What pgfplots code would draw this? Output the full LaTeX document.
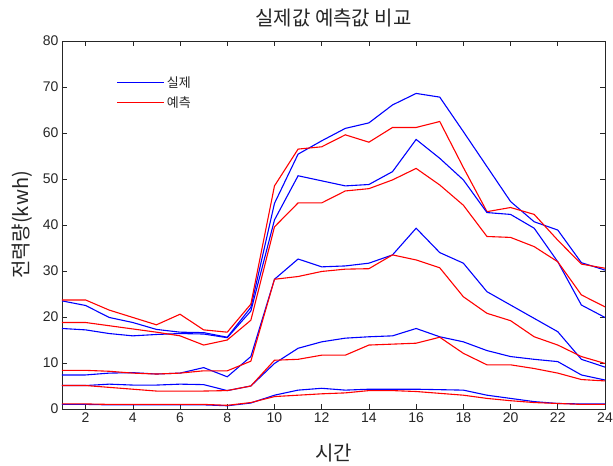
\documentclass[border=0pt]{standalone}
\usepackage{pgfplots}
\pgfplotsset{compat=1.18}
\usepackage{pgfplotstable}
\usepackage{fontspec}
\setmainfont{Liberation Sans}
\newfontfamily\kr{Noto Sans CJK KR}
\definecolor{axgray}{RGB}{38,38,38}
\definecolor{mblue}{RGB}{0,0,255}
\definecolor{mred}{RGB}{255,0,0}

\pgfplotstableread{
x a1 p1 a2 p2 a3 p3 a4 p4 a5 p5
1 23.5 23.7 17.5 18.8 7.4 8.4 5.1 5.1 1.0 1.1
2 22.5 23.7 17.2 18.8 7.4 8.4 5.1 5.1 1.0 1.1
3 19.9 21.5 16.4 18.1 7.8 8.2 5.4 4.7 0.9 1.0
4 18.8 19.9 15.9 17.4 7.9 7.8 5.2 4.3 0.9 1.0
5 17.3 18.3 16.2 16.7 7.6 7.6 5.2 3.9 0.9 1.0
6 16.7 20.6 16.4 15.9 7.8 7.8 5.4 3.9 0.9 1.0
7 16.6 17.2 16.3 13.9 9.0 8.3 5.3 3.9 0.9 1.0
8 15.6 16.7 15.5 15.0 7.0 8.3 4.0 4.0 0.7 0.8
9 22.1 22.8 21.3 19.3 11.4 10.4 5.0 5.0 1.3 1.4
10 44.7 48.5 41.1 39.6 28.2 28.2 9.9 10.6 3.0 2.7
11 55.4 56.5 50.7 44.8 32.6 28.8 13.2 10.8 4.1 3.0
12 58.3 57.0 49.6 44.8 30.9 29.9 14.6 11.7 4.5 3.3
13 61.0 59.6 48.5 47.4 31.1 30.4 15.4 11.7 4.1 3.5
14 62.2 58.0 48.8 47.9 31.7 30.5 15.7 13.9 4.3 4.0
15 66.1 61.2 51.6 49.8 33.5 33.5 15.9 14.1 4.3 4.0
16 68.6 61.2 58.6 52.3 39.3 32.4 17.5 14.3 4.3 3.8
17 67.8 62.5 54.5 48.7 34.0 30.7 15.7 15.6 4.2 3.4
18 60.3 52.5 49.8 44.3 31.7 24.4 14.6 12.1 4.1 3.0
19 52.7 42.9 42.7 37.5 25.5 20.8 12.7 9.6 3.0 2.3
20 45.1 43.8 42.3 37.3 22.6 19.2 11.4 9.6 2.3 1.8
21 40.7 42.3 39.3 35.3 19.7 15.7 10.8 8.8 1.6 1.4
22 38.9 36.7 32.0 32.0 16.8 13.9 10.3 7.8 1.2 1.2
23 31.8 31.5 22.6 24.8 10.8 11.4 7.4 6.4 1.1 1.0
24 30.2 30.6 19.9 22.2 9.1 9.9 6.3 6.1 1.1 1.0
}\data

\begin{document}
\begin{tikzpicture}
\begin{axis}[name=ax, scale only axis, width=543pt, height=368pt,
  xmin=1, xmax=24, ymin=0, ymax=80,
  xtick={2,4,...,24}, ytick={0,10,...,80},
  tick align=inside, xtick pos=both, ytick pos=both,
  major tick length=5pt,
  axis line style={axgray, line width=0.6pt},
  tick style={axgray, line width=0.6pt},
  ticklabel style={font=\fontsize{14}{16}\selectfont, text=axgray},
  /pgf/number format/assume math mode=true,
  title={실제값 예측값 비교},
  title style={font=\kr\fontsize{20}{22}\selectfont, text=axgray, at={(axis description cs:0.5,1)}, anchor=base, yshift=9pt},
  xlabel={시간},
  xlabel style={font=\kr\fontsize{20}{22}\selectfont, text=axgray, at={(axis description cs:0.5,0)}, anchor=base, yshift=-52pt},
  ylabel={전력량(kwh)},
  ylabel style={font=\kr\fontsize{20}{22}\selectfont, text=axgray, at={(axis description cs:-0.074,0.5)}, anchor=center},
  legend cell align=left,
  legend style={draw=none, fill=none, font=\kr\fontsize{13}{15}\selectfont, text=axgray,
    at={(axis description cs:0.095,0.915)}, anchor=north west, row sep=4pt},
  legend image code/.code={\draw[#1] (0pt,0pt) -- (47pt,0pt);},
]
\addplot[mblue, line width=1.1pt] table[x=x, y=a1] {\data};
\addlegendentry{실제}
\addplot[mred, line width=1.1pt] table[x=x, y=p1] {\data};
\addlegendentry{예측}
\addplot[mblue, line width=1.1pt, forget plot] table[x=x, y=a2] {\data};
\addplot[mred, line width=1.1pt, forget plot] table[x=x, y=p2] {\data};
\addplot[mblue, line width=1.1pt, forget plot] table[x=x, y=a3] {\data};
\addplot[mred, line width=1.1pt, forget plot] table[x=x, y=p3] {\data};
\addplot[mblue, line width=1.1pt, forget plot] table[x=x, y=a4] {\data};
\addplot[mred, line width=1.1pt, forget plot] table[x=x, y=p4] {\data};
\addplot[mblue, line width=1.1pt, forget plot] table[x=x, y=a5] {\data};
\addplot[mred, line width=1.1pt, forget plot] table[x=x, y=p5] {\data};
\end{axis}
\pgfresetboundingbox
\useasboundingbox ([xshift=-62pt,yshift=-57pt]ax.south west) rectangle ([xshift=8pt,yshift=41pt]ax.north east);
\end{tikzpicture}
\end{document}
